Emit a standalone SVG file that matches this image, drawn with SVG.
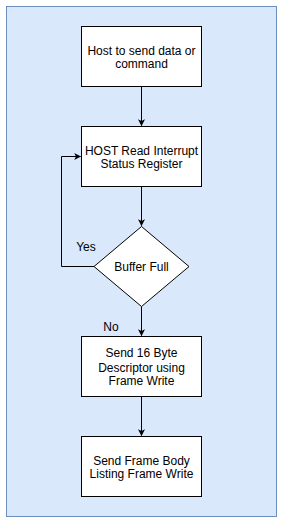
<svg xmlns="http://www.w3.org/2000/svg" width="282" height="522" viewBox="0 0 282 522">
<defs>
<style>
.box{fill:#ffffff;stroke:#000000;stroke-width:1}
.t{font-family:"Liberation Sans",Arial,sans-serif;font-size:12px;fill:#000000;text-anchor:middle}
.c{fill:none;stroke:#000000;stroke-width:1}
</style>
<marker id="ah" viewBox="0 0 10 10" refX="9" refY="5" markerWidth="7" markerHeight="7" markerUnits="userSpaceOnUse" orient="auto">
<path d="M0,0 L10,5 L0,10 L2.5,5 Z" fill="#000000"/>
</marker>
</defs>
<rect id="container" x="6.5" y="6.5" width="270" height="510" fill="#dae8fc" stroke="#6c8ebf" stroke-width="1"/>
<g id="connectors">
<path class="c" d="M141.5,86.5 L141.5,125.5" marker-end="url(#ah)"/>
<path class="c" d="M141.5,186.5 L141.5,225.5" marker-end="url(#ah)"/>
<path class="c" d="M94,266.5 L61.5,266.5 L61.5,156.5 L80.5,156.5" marker-end="url(#ah)"/>
<path class="c" d="M141.5,306.5 L141.5,335.5" marker-end="url(#ah)"/>
<path class="c" d="M141.5,396.5 L141.5,435.5" marker-end="url(#ah)"/>
<text class="t" x="86" y="251">Yes</text>
<text class="t" x="111" y="331">No</text>
</g>
<g id="n1">
<rect class="box" x="81.5" y="26.5" width="120" height="60"/>
<text class="t" x="141.5" y="54.5">Host to send data or</text>
<text class="t" x="141.5" y="68">command</text>
</g>
<g id="n2">
<rect class="box" x="81.5" y="126.5" width="120" height="60"/>
<text class="t" x="141.5" y="154.5">HOST Read Interrupt</text>
<text class="t" x="141.5" y="168">Status Register</text>
</g>
<g id="n3">
<polygon class="box" points="141.5,226.5 189,266.5 141.5,306.5 94,266.5"/>
<text class="t" x="141.5" y="271">Buffer Full</text>
</g>
<g id="n4">
<rect class="box" x="81.5" y="336.5" width="120" height="60"/>
<text class="t" x="141.5" y="357">Send 16 Byte</text>
<text class="t" x="141.5" y="371.5">Descriptor using</text>
<text class="t" x="141.5" y="385">Frame Write</text>
</g>
<g id="n5">
<rect class="box" x="81.5" y="436.5" width="120" height="60"/>
<text class="t" x="141.5" y="464.5">Send Frame Body</text>
<text class="t" x="141.5" y="478">Listing Frame Write</text>
</g>
</svg>
